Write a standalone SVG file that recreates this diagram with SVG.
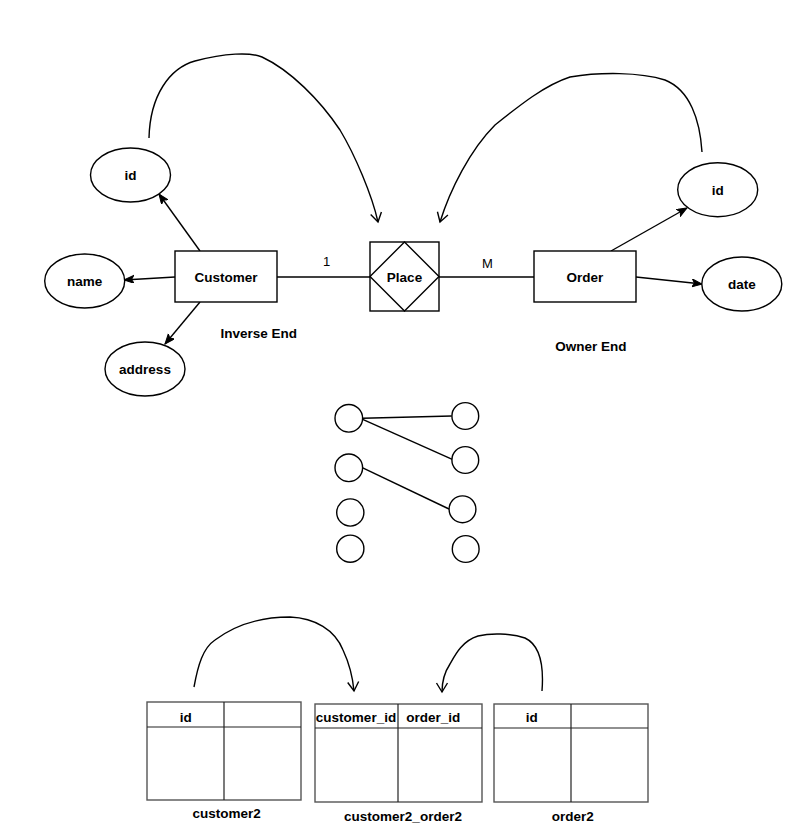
<svg xmlns="http://www.w3.org/2000/svg" width="808" height="835" viewBox="0 0 808 835">
<style>
.shape{fill:#fff;stroke:#000;stroke-width:1.4}
.tbl{fill:#fff;stroke:#555;stroke-width:1.4}
.tline{stroke:#222;stroke-width:1.2}
.edge{fill:none;stroke:#000;stroke-width:1.4}
.t{font-family:"Liberation Sans",Arial,sans-serif;font-size:13.5px;font-weight:bold;text-anchor:middle;fill:#000}
.n{font-family:"Liberation Sans",Arial,sans-serif;font-size:13px;text-anchor:middle;fill:#000}
</style>
<defs>
<marker id="fill" markerUnits="userSpaceOnUse" markerWidth="12" markerHeight="10" refX="10" refY="4" orient="auto" viewBox="0 0 12 10">
<path d="M0,0 L10,4 L0,8 L2.5,4 z" fill="#000" stroke="#000" stroke-width="1"/>
</marker>
<marker id="open" markerUnits="userSpaceOnUse" markerWidth="14" markerHeight="14" refX="10" refY="6" orient="auto" viewBox="0 0 14 12">
<path d="M1,0.5 L10,6 L1,11.5" fill="none" stroke="#000" stroke-width="1.4"/>
</marker>
</defs>
<rect width="808" height="835" fill="#fff"/>

<g id="connectors">
<line class="edge" x1="200" y1="251" x2="159" y2="194" marker-end="url(#fill)"/>
<line class="edge" x1="175" y1="277" x2="124" y2="280" marker-end="url(#fill)"/>
<line class="edge" x1="200" y1="302" x2="165" y2="344" marker-end="url(#fill)"/>
<line class="edge" x1="277" y1="277" x2="370" y2="277"/>
<line class="edge" x1="439" y1="277" x2="534" y2="277"/>
<line class="edge" x1="611" y1="251" x2="687" y2="208" marker-end="url(#fill)"/>
<line class="edge" x1="636" y1="277" x2="702" y2="284" marker-end="url(#fill)"/>
<path class="edge" d="M149,138 C150,95 170,68 195,61 C225,53 250,52 262,57 C290,70 320,100 340,130 C355,155 372,195 378,222" marker-end="url(#open)"/>
<path class="edge" d="M702,152 C700,120 690,90 665,80 C640,72 600,72 570,77 C545,85 520,105 495,125 C470,150 450,190 440,222" marker-end="url(#open)"/>
<path class="edge" d="M194,687 C198,665 203,648 215,640 C235,625 260,617 290,617 C315,618 335,630 343,650 C350,665 353,680 354,691" marker-end="url(#open)"/>
<path class="edge" d="M542,691 C544,665 540,645 525,638 C510,633 490,633 478,636 C462,641 455,655 450,664 C444,673 442,682 442,692" marker-end="url(#open)"/>
<line class="edge" x1="362.7" y1="418.3" x2="451.7" y2="416"/>
<line class="edge" x1="362.7" y1="419.3" x2="452.3" y2="459.3"/>
<line class="edge" x1="361.7" y1="467.3" x2="449" y2="509"/>
</g>

<g id="customer"><rect class="shape" x="175" y="251" width="102" height="51"/><text class="t" x="226" y="282">Customer</text></g>
<g id="cust-id"><ellipse class="shape" cx="130.5" cy="175" rx="40" ry="27"/><text class="t" x="130.5" y="180">id</text></g>
<g id="cust-name"><ellipse class="shape" cx="84.7" cy="281" rx="40" ry="27"/><text class="t" x="84.7" y="286">name</text></g>
<g id="cust-address"><ellipse class="shape" cx="145" cy="369" rx="40" ry="27"/><text class="t" x="145" y="374">address</text></g>
<g id="place"><rect class="shape" x="370" y="242" width="69" height="69"/><polygon class="shape" points="404.5,242 439,276.5 404.5,311 370,276.5"/><text class="t" x="404.5" y="282">Place</text></g>
<g id="order"><rect class="shape" x="534" y="251" width="102" height="51"/><text class="t" x="585" y="282">Order</text></g>
<g id="order-id"><ellipse class="shape" cx="717.7" cy="189.7" rx="40" ry="27"/><text class="t" x="717.7" y="195">id</text></g>
<g id="order-date"><ellipse class="shape" cx="741.8" cy="284" rx="40" ry="27"/><text class="t" x="741.8" y="289">date</text></g>
<g id="labels">
<text class="n" x="326.7" y="265.5">1</text>
<text class="n" x="487.3" y="268">M</text>
<text class="t" x="258.7" y="337.5">Inverse End</text>
<text class="t" x="591" y="350.5">Owner End</text>
</g>

<g id="instances">
<circle class="shape" cx="348.8" cy="418.3" r="13.8"/>
<circle class="shape" cx="348.8" cy="467.8" r="13.8"/>
<circle class="shape" cx="350.3" cy="512.5" r="13.6"/>
<circle class="shape" cx="350.3" cy="548.7" r="13.6"/>
<circle class="shape" cx="465.3" cy="416" r="13.4"/>
<circle class="shape" cx="465.3" cy="460" r="13.4"/>
<circle class="shape" cx="462.5" cy="509.3" r="13.4"/>
<circle class="shape" cx="465.7" cy="549" r="13.4"/>
</g>

<g id="customer2">
<rect class="tbl" x="147" y="702" width="154" height="98"/>
<line class="tline" x1="147" y1="727" x2="301" y2="727"/>
<line class="tline" x1="224" y1="702" x2="224" y2="800"/>
<text class="t" x="185.7" y="722">id</text>
<text class="t" x="226.7" y="818">customer2</text>
</g>
<g id="customer2_order2">
<rect class="tbl" x="315" y="704" width="167" height="98"/>
<line class="tline" x1="315" y1="728" x2="482" y2="728"/>
<line class="tline" x1="398" y1="704" x2="398" y2="802"/>
<text class="t" x="356" y="722">customer_id</text>
<text class="t" x="433.3" y="722">order_id</text>
<text class="t" x="403" y="821">customer2_order2</text>
</g>
<g id="order2">
<rect class="tbl" x="494" y="704" width="154" height="98"/>
<line class="tline" x1="494" y1="728" x2="648" y2="728"/>
<line class="tline" x1="571" y1="704" x2="571" y2="802"/>
<text class="t" x="531.7" y="722">id</text>
<text class="t" x="572.7" y="821">order2</text>
</g>
</svg>
